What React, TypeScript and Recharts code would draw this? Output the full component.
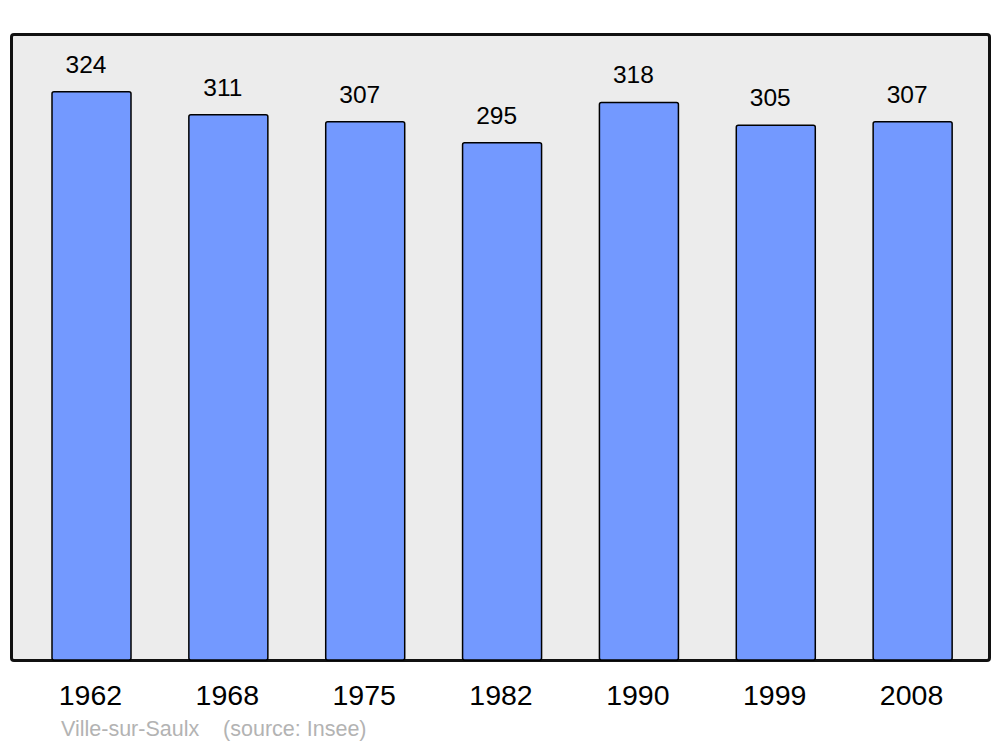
import { BarChart, Bar, XAxis, YAxis, CartesianGrid, LabelList } from "recharts";

const years = ["1962", "1968", "1975", "1982", "1990", "1999", "2008"];
const population = [324, 311, 307, 295, 318, 305, 307];
const commune = "Ville-sur-Saulx";
const source = "(source: Insee)";

const data = years.map((year, i) => ({ year, population: population[i] }));

const FONT = "'Liberation Sans', Arial, sans-serif";

/** value label above each bar, slightly left of centre like the original */
function ValueLabel(props: any) {
  const { x, y, width, value } = props;
  return (
    <text
      x={x + width / 2 - 5.5}
      y={y - 19}
      textAnchor="middle"
      fontSize={24.5}
      fontFamily={FONT}
      fill="#000"
    >
      {value}
    </text>
  );
}

function YearTick(props: any) {
  const { x, y, payload } = props;
  return (
    <text x={x - 1} y={y + 45} textAnchor="middle" fontSize={28.5} fontFamily={FONT} fill="#000">
      {payload.value}
    </text>
  );
}

export default function App() {
  return (
    <div style={{ position: "absolute", left: 0, top: 0, width: 1000, height: 747, background: "#fff" }}>
      {/* plot frame */}
      <div
        style={{
          position: "absolute",
          left: 10,
          top: 33,
          width: 975,
          height: 623,
          background: "#ececec",
          border: "3px solid #111",
          borderRadius: 4,
        }}
      />
      <div style={{ position: "absolute", left: 0, top: 0 }}>
        <BarChart
          width={1000}
          height={747}
          data={data}
          margin={{ top: 34, right: 11, left: 11, bottom: 57 }}
          barSize={79}
        >
          <CartesianGrid horizontal={false} vertical={false} />
          <YAxis hide domain={[0, 357]} />
          <XAxis
            dataKey="year"
            height={30}
            axisLine={false}
            tickLine={false}
            tickSize={0}
            tickMargin={0}
            padding={{ left: 12, right: 8 }}
            tick={<YearTick />}
            interval={0}
          />
          <Bar
            dataKey="population"
            fill="#7399ff"
            stroke="#000"
            strokeWidth={1.5}
            radius={[2, 2, 2, 2]}
            isAnimationActive={false}
          >
            <LabelList dataKey="population" content={<ValueLabel />} />
          </Bar>
        </BarChart>
      </div>
      <div
        style={{
          position: "absolute",
          left: 61,
          top: 719,
          fontFamily: FONT,
          fontSize: 21.5,
          lineHeight: "21.5px",
          color: "#b3b3b3",
          whiteSpace: "pre",
        }}
      >
        {commune + "    " + source}
      </div>
    </div>
  );
}
